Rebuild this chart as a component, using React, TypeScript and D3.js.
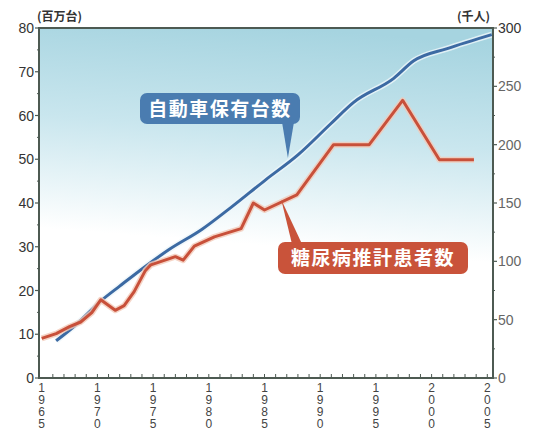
import React from "react";
import * as d3 from "d3";

const carYears = [1966.3, 1968, 1970.4, 1972, 1974.3, 1976.4, 1979.4, 1982, 1985.1, 1988, 1990.9, 1993, 1996.6, 1998.4, 2001.4, 2005.4];
const carValues = [8.5, 12, 17.8, 21, 25.5, 29.3, 34, 39, 45.3, 51, 58, 63, 68.5, 72.5, 75.3, 78.5];

const diaYears = [1965, 1966.3, 1967.5, 1968.5, 1969.5, 1970.3, 1971.6, 1972.4, 1973.3, 1974.3, 1974.8, 1977, 1977.7, 1978.7, 1980.5, 1982.9, 1984, 1985, 1987.9, 1991.2, 1994.4, 1997.4, 2000.7, 2003.8];
const diaValues = [34, 38, 44, 48, 56, 67, 58, 62, 74, 92, 97, 104, 101, 113, 121, 128, 150, 144, 157, 200, 200, 238, 187, 187];

const leftTicks = [0, 10, 20, 30, 40, 50, 60, 70, 80];
const rightTicks = [0, 50, 100, 150, 200, 250, 300];
const xLabelYears = [1965, 1970, 1975, 1980, 1985, 1990, 1995, 2000, 2005];

const carLabel = "自動車保有台数";
const diaLabel = "糖尿病推計患者数";
const leftUnit = "(百万台)";
const rightUnit = "(千人)";

export default function App() {
  const L = 39, R = 493, T = 28, B = 378;
  const x = d3.scaleLinear().domain([1965, 2005]).range([41.7, 487.3]);
  const yL = d3.scaleLinear().domain([0, 80]).range([B, T]);
  const yR = d3.scaleLinear().domain([0, 300]).range([B, T]);

  const carLine = d3.line<number>().x((_, i) => x(carYears[i])).y((d) => yL(d)).curve(d3.curveMonotoneX)(carValues) || "";
  const diaLine = d3.line<number>().x((_, i) => x(diaYears[i])).y((d) => yR(d))(diaValues) || "";

  const axisColor = "#4d5a52";
  const minorYears = d3.range(1966, 2006);
  const leftMinor = d3.range(5, 80, 10);
  const rightMinor = d3.range(25, 300, 50);

  return (
    <svg width={547} height={430} style={{ position: "absolute", left: 0, top: 0, fontFamily: "'Liberation Sans', Arial, sans-serif" }}>
      <defs>
        <linearGradient id="bg" x1="0.55" y1="0" x2="0.45" y2="1">
          <stop offset="0" stopColor="#a6d4e0" />
          <stop offset="0.3" stopColor="#c9e6ee" />
          <stop offset="0.62" stopColor="#ffffff" />
          <stop offset="1" stopColor="#ffffff" />
        </linearGradient>
      </defs>
      <rect x={0} y={0} width={547} height={430} fill="#ffffff" />
      <rect x={L} y={T} width={R - L} height={B - T} fill="url(#bg)" />

      {/* lines */}
      <path d={carLine} fill="none" stroke="#eef6fa" strokeWidth={6} strokeLinejoin="round" opacity={0.8} />
      <path d={carLine} fill="none" stroke="#3c6aa3" strokeWidth={3} strokeLinejoin="round" />
      <path d={diaLine} fill="none" stroke="#f3c9b8" strokeWidth={6} strokeLinejoin="round" opacity={0.8} />
      <path d={diaLine} fill="none" stroke="#c8503a" strokeWidth={3} strokeLinejoin="round" />

      {/* frame */}
      <rect x={L} y={T} width={R - L} height={B - T} fill="none" stroke={axisColor} strokeWidth={2} />

      {/* x ticks */}
      {minorYears.map((yr) => (
        <line key={"xt" + yr} x1={x(yr)} x2={x(yr)} y1={B} y2={B - 4} stroke={axisColor} strokeWidth={1} />
      ))}
      {xLabelYears.map((yr) => (
        <text key={"xl" + yr} x={x(yr)} y={B} fontSize={12} fill="#444" textAnchor="middle">
          {String(yr).split("").map((ch, i) => (
            <tspan key={i} x={x(yr)} y={B + 14 + i * 12}>{ch}</tspan>
          ))}
        </text>
      ))}

      {/* left axis */}
      {leftTicks.map((v) => (
        <g key={"l" + v}>
          <line x1={L - 4} x2={L} y1={yL(v)} y2={yL(v)} stroke={axisColor} strokeWidth={1.2} />
          <text x={L - 5} y={yL(v) + 5} fontSize={14} fill="#333" textAnchor="end">{v}</text>
        </g>
      ))}
      {leftMinor.map((v) => (
        <line key={"lm" + v} x1={L - 2} x2={L} y1={yL(v)} y2={yL(v)} stroke={axisColor} strokeWidth={1} />
      ))}

      {/* right axis */}
      {rightTicks.map((v) => (
        <g key={"r" + v}>
          <line x1={R} x2={R + 4} y1={yR(v)} y2={yR(v)} stroke={axisColor} strokeWidth={1.2} />
          <text x={R + 5} y={yR(v) + 5} fontSize={14} fill={v === 300 ? "#333" : "#666"} textAnchor="start">{v}</text>
        </g>
      ))}
      {rightMinor.map((v) => (
        <line key={"rm" + v} x1={R} x2={R + 2} y1={yR(v)} y2={yR(v)} stroke={axisColor} strokeWidth={1} />
      ))}

      {/* units */}
      <text x={37} y={21} fontSize={12} fontWeight="bold" fill="#333" fontFamily="'Noto Sans CJK JP', sans-serif">{leftUnit}</text>
      <text x={490} y={21} fontSize={12} fontWeight="bold" fill="#333" textAnchor="end" fontFamily="'Noto Sans CJK JP', sans-serif">{rightUnit}</text>

      {/* blue callout */}
      <path d={`M ${282} ${122} L ${x(1987.1)} ${yL(50.3)} L ${294} ${122} Z`} fill="#4a7cb0" />
      <rect x={140} y={93} width={160} height={31} rx={7} fill="#4a7cb0" />
      <text x={220} y={116} fontSize={19} fill="#ffffff" fontWeight="bold" textAnchor="middle" letterSpacing={1.5} fontFamily="'Noto Sans CJK JP', sans-serif">{carLabel}</text>

      {/* red callout */}
      <path d={`M ${292} ${244} L ${x(1986.5)} ${yR(153)} L ${302} ${244} Z`} fill="#c9533a" />
      <rect x={278} y={242} width={190} height={32} rx={7} fill="#c9533a" />
      <text x={373} y={265} fontSize={19} fill="#ffffff" fontWeight="bold" textAnchor="middle" letterSpacing={1.5} fontFamily="'Noto Sans CJK JP', sans-serif">{diaLabel}</text>
    </svg>
  );
}
